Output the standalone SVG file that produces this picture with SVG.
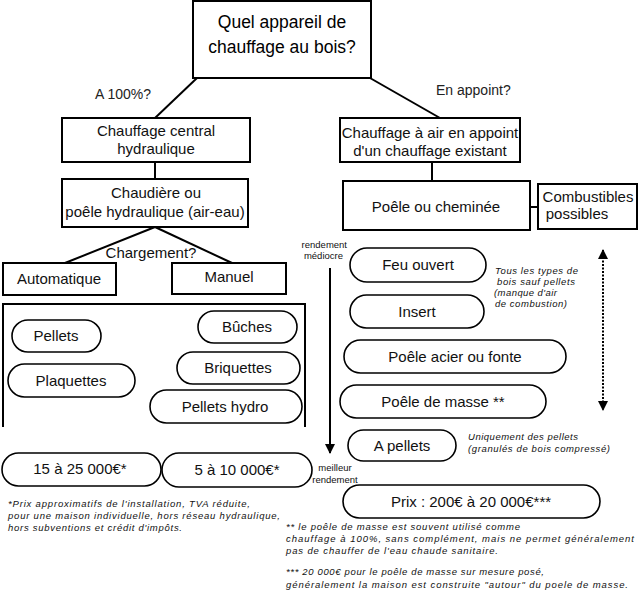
<svg xmlns="http://www.w3.org/2000/svg" width="640" height="593" viewBox="0 0 640 593">
<style>
.b{fill:#fff;stroke:#000;stroke-width:2}
.o{fill:#fff;stroke:#000;stroke-width:1.6}
.t{font-family:"Liberation Sans",Arial,sans-serif;font-size:15px;fill:#111;text-anchor:middle}
.h{font-family:"Liberation Sans",Arial,sans-serif;font-size:17.5px;fill:#000;text-anchor:middle}
.s{font-family:"Liberation Sans",Arial,sans-serif;font-size:14px;fill:#222}
.n{font-family:"Liberation Sans",Arial,sans-serif;font-size:9.5px;fill:#111}
.i{font-family:"Liberation Sans",Arial,sans-serif;font-size:9.5px;font-style:italic;fill:#111}
.l{stroke:#000;stroke-width:2;fill:none}
</style>
<defs>
<marker id="ah" viewBox="0 0 10 10" refX="9" refY="5" markerWidth="10" markerHeight="10" markerUnits="userSpaceOnUse" orient="auto-start-reverse">
<path d="M0,0 L10,5 L0,10 Z" fill="#000"/>
</marker>
</defs>
<rect width="640" height="593" fill="#fff"/>
<g id="connectors">
<line class="l" x1="197" y1="78" x2="155" y2="118"/>
<line class="l" x1="370" y1="78" x2="440" y2="118"/>
<line class="l" x1="155" y1="162" x2="155" y2="179"/>
<line class="l" x1="155" y1="227" x2="65" y2="263"/>
<line class="l" x1="155" y1="227" x2="232" y2="263"/>
<line class="l" x1="432" y1="162" x2="432" y2="181"/>
<line class="l" x1="530" y1="207" x2="538" y2="207"/>
<line class="l" x1="330" y1="268" x2="330" y2="453" marker-end="url(#ah)"/>
<line x1="603" y1="250" x2="603" y2="410" stroke="#000" stroke-width="2" stroke-dasharray="2,1.5" marker-start="url(#ah)" marker-end="url(#ah)"/>
</g>
<g id="q"><rect class="b" x="193" y="1" width="178" height="77"/>
<text class="h" x="282" y="28">Quel appareil de</text><text class="h" x="282" y="53">chauffage au bois?</text></g>
<text class="s" x="95" y="99">A 100%?</text>
<text class="s" x="436" y="95">En appoint?</text>
<g id="central"><rect class="b" x="62" y="118" width="188" height="44"/>
<text class="t" x="156" y="136">Chauffage central</text><text class="t" x="156" y="154">hydraulique</text></g>
<g id="chaudiere"><rect class="b" x="62" y="179" width="186" height="48"/>
<text class="t" x="156" y="198">Chaudière ou</text><text class="t" x="155" y="217">poêle hydraulique (air-eau)</text></g>
<text class="t" x="151" y="258">Chargement?</text>
<g id="auto"><rect class="b" x="3" y="263" width="113" height="32"/><text class="t" x="59" y="284">Automatique</text></g>
<g id="manuel"><rect class="b" x="172" y="263" width="114" height="31"/><text class="t" x="229" y="282">Manuel</text></g>
<g id="combbox"><path class="l" d="M3,427 V304 H305 V427"/></g>
<g id="pellets"><rect class="o" x="12" y="320" width="89" height="32" rx="16"/><text class="t" x="56" y="341">Pellets</text></g>
<g id="plaquettes"><rect class="o" x="8" y="364" width="127" height="33" rx="16.5"/><text class="t" x="71" y="386">Plaquettes</text></g>
<g id="buches"><rect class="o" x="198" y="311" width="99" height="32" rx="16"/><text class="t" x="247" y="332">Bûches</text></g>
<g id="briquettes"><rect class="o" x="177" y="352" width="123" height="32" rx="16"/><text class="t" x="238" y="373">Briquettes</text></g>
<g id="pelletshydro"><rect class="o" x="150" y="390" width="152" height="33" rx="16.5"/><text class="t" x="225" y="412">Pellets hydro</text></g>
<g id="prix1"><rect class="o" x="2" y="453" width="159" height="33" rx="16.5"/><text class="t" x="80" y="474">15 à 25 000€*</text></g>
<g id="prix2"><rect class="o" x="162" y="453" width="150" height="34" rx="17"/><text class="t" x="237" y="475">5 à 10 000€*</text></g>
<text class="i"><tspan x="8" y="507" textLength="242" lengthAdjust="spacing">*Prix approximatifs de l'installation, TVA réduite,</tspan></text>
<text class="i"><tspan x="8" y="519" textLength="272" lengthAdjust="spacing">pour une maison individuelle, hors réseau hydraulique,</tspan></text>
<text class="i"><tspan x="8" y="531" textLength="174" lengthAdjust="spacing">hors subventions et crédit d'impôts.</tspan></text>
<g id="appoint"><rect class="b" x="340" y="118" width="180" height="44"/>
<text class="t" x="430" y="138">Chauffage à air en appoint</text><text class="t" x="430" y="156">d'un chauffage existant</text></g>
<g id="poele"><rect class="b" x="343" y="181" width="187" height="49"/><text class="t" x="436" y="212">Poêle ou cheminée</text></g>
<g id="combustibles"><rect class="b" x="538" y="184" width="99" height="45"/>
<text class="t" x="588" y="202">Combustibles</text><text class="t" x="577" y="219">possibles</text></g>
<text class="n" text-anchor="end"><tspan x="347" y="248">rendement</tspan><tspan x="343" y="259">médiocre</tspan></text>
<text class="n" text-anchor="middle"><tspan x="335" y="471">meilleur</tspan><tspan x="335" y="483">rendement</tspan></text>
<g id="feu"><rect class="o" x="350" y="248" width="136" height="34" rx="17"/><text class="t" x="418" y="270">Feu ouvert</text></g>
<g id="insert"><rect class="o" x="350" y="295" width="134" height="33" rx="16.5"/><text class="t" x="417" y="317">Insert</text></g>
<g id="acier"><rect class="o" x="344" y="340" width="222" height="33" rx="16.5"/><text class="t" x="455" y="362">Poêle acier ou fonte</text></g>
<g id="masse"><rect class="o" x="340" y="385" width="206" height="33" rx="16.5"/><text class="t" x="443" y="407">Poêle de masse **</text></g>
<g id="apellets"><rect class="o" x="348" y="430" width="108" height="31" rx="15.5"/><text class="t" x="402" y="451">A pellets</text></g>
<g id="prix3"><rect class="o" x="343" y="485" width="257" height="33" rx="16.5"/><text class="t" x="471" y="507">Prix : 200€ à 20 000€***</text></g>
<text class="i" x="495" y="274" textLength="83" lengthAdjust="spacing">Tous les types de</text>
<text class="i" x="497" y="285" textLength="78" lengthAdjust="spacing">bois sauf pellets</text>
<text class="i" x="494" y="296" textLength="63" lengthAdjust="spacing">(manque d'air</text>
<text class="i" x="495" y="307" textLength="72" lengthAdjust="spacing">de combustion)</text>
<text class="i" x="468" y="440" textLength="110" lengthAdjust="spacing">Uniquement des pellets</text>
<text class="i" x="468" y="452" textLength="142" lengthAdjust="spacing">(granulés de bois compressé)</text>
<text class="i" x="286" y="530" textLength="234" lengthAdjust="spacing">** le poêle de masse est souvent utilisé comme</text>
<text class="i" x="286" y="542" textLength="348" lengthAdjust="spacing">chauffage à 100%, sans complément, mais ne permet généralement</text>
<text class="i" x="286" y="554" textLength="212" lengthAdjust="spacing">pas de chauffer de l'eau chaude sanitaire.</text>
<text class="i" x="286" y="575" textLength="258" lengthAdjust="spacing">*** 20 000€ pour le poêle de masse sur mesure posé,</text>
<text class="i" x="286" y="588" textLength="342" lengthAdjust="spacing">généralement la maison est construite "autour" du poele de masse.</text>
</svg>
